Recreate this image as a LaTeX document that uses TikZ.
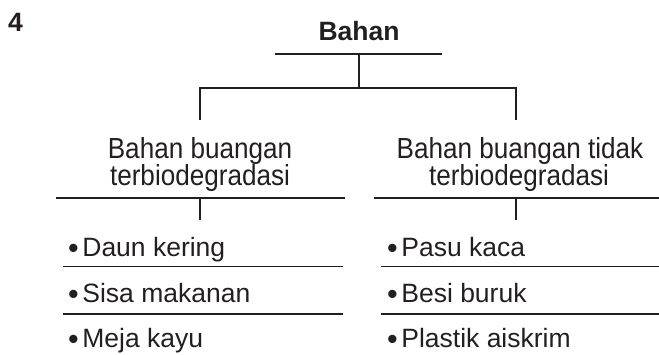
\documentclass[tikz,border=0pt]{standalone}
\usepackage{fontspec}
\setmainfont{Liberation Sans}
\newfontfamily\hdrfont[FakeStretch=0.9]{Liberation Sans}
\definecolor{ink}{HTML}{231F20}
\newcommand{\itembul}{\raisebox{-1.5pt}{\scalebox{1.15}{•}}\hspace{3.5pt}}
\tikzset{
  txt/.style={anchor=base,inner sep=0pt,font=\fontsize{26.5}{30}\selectfont,text=ink},
  hdr/.style={txt,font=\hdrfont\fontsize{29}{30}\selectfont},
  boldtxt/.style={txt,font=\bfseries\fontsize{26.5}{30}\selectfont},
  item/.style={txt,anchor=base west},
  rule/.style={draw=ink,line width=1.3pt},
}
\begin{document}
\begin{tikzpicture}[x=1pt,y=-1pt]
\useasboundingbox (0,0) rectangle (659,355);
% number
\node[boldtxt,anchor=base west] (num) at (8,32) {4};
% root
\node[boldtxt] (root) at (359,41) {Bahan};
\coordinate (rootL) at (275,54);
\coordinate (rootR) at (442,54);
\coordinate (rootM) at (359,54);
\coordinate (bar) at (359,88);
\coordinate (barL) at (200,88);
\coordinate (barR) at (516,88);
\coordinate (legL) at (200,120);
\coordinate (legR) at (516,120);
\draw[rule] (rootL) -- (rootR);
\draw[rule] (rootM) -- (bar);
\draw[rule] (legL) -- (barL) -- (barR) -- (legR);
% headers
\node[hdr] (hLa) at (200,158.5) {Bahan buangan};
\node[hdr] (hLb) at (200,186) {terbiodegradasi};
\node[hdr] (hRa) at (520,158.5) {Bahan buangan tidak};
\node[hdr] (hRb) at (519,186) {terbiodegradasi};
\coordinate (hLruleA) at (56,198);
\coordinate (hLruleB) at (345,198);
\coordinate (hRruleA) at (374,198);
\coordinate (hRruleB) at (659,198);
\draw[rule] (hLruleA) -- (hLruleB);
\draw[rule] (hRruleA) -- (hRruleB);
\coordinate (stemLt) at (200,198);
\coordinate (stemLb) at (200,220);
\coordinate (stemRt) at (516,198);
\coordinate (stemRb) at (516,220);
\draw[rule] (stemLt) -- (stemLb);
\draw[rule] (stemRt) -- (stemRb);
% left items
\node[item] (l1) at (68,257) {\itembul Daun kering};
\node[item] (l2) at (68,303) {\itembul Sisa makanan};
\node[item] (l3) at (68,348) {\itembul Meja kayu};
\coordinate (l1a) at (63,266.5); \coordinate (l1b) at (343,266.5);
\coordinate (l2a) at (63,314); \coordinate (l2b) at (343,314);
\draw[rule] (l1a) -- (l1b);
\draw[rule] (l2a) -- (l2b);
% right items
\node[item] (r1) at (387,257) {\itembul Pasu kaca};
\node[item] (r2) at (387,303) {\itembul Besi buruk};
\node[item] (r3) at (387,348) {\itembul Plastik aiskrim};
\coordinate (r1a) at (381,266.5); \coordinate (r1b) at (659,266.5);
\coordinate (r2a) at (381,314); \coordinate (r2b) at (659,314);
\draw[rule] (r1a) -- (r1b);
\draw[rule] (r2a) -- (r2b);
\end{tikzpicture}
\end{document}
